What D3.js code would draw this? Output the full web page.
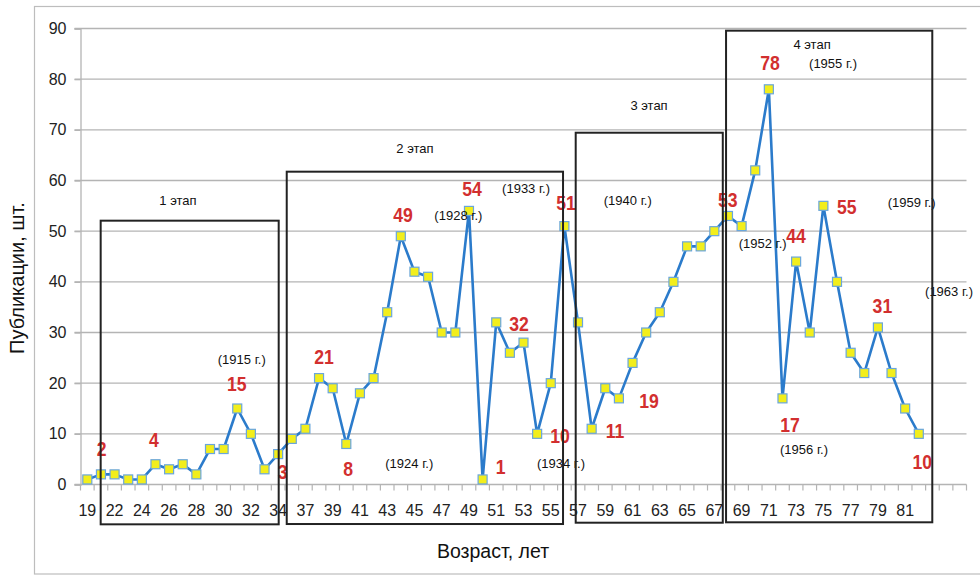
<!DOCTYPE html>
<html>
<head>
<meta charset="utf-8">
<script src="https://cdn.jsdelivr.net/npm/d3@7"></script>
<style>
  body { margin: 0; background: #fff; }
  svg { display: block; font-family: "Liberation Sans", Arial, sans-serif; }
</style>
</head>
<body>
<svg id="chart" width="980" height="575"></svg>
<script>
// ages on the category axis (only every second one is printed)
const ages = [
  "19", "21", "22", "23", "24", "25", "26", "27", "28", "29", "30", "31", "32", "33", "34",
  "36", "37", "38", "39", "40", "41", "42", "43", "44", "45", "46", "47", "48", "49", "50",
  "51", "52", "53", "54", "55", "56", "57", "58", "59", "60", "61", "62", "63", "64", "65",
  "66", "67", "68", "69", "70", "71", "72", "73", "74", "75", "76", "77", "78", "79", "80",
  "81", "82", "", "", ""
];
// publications per age
const publications = [
  1, 2, 2, 1, 1, 4, 3, 4, 2, 7, 7, 15, 10, 3, 6,
  9, 11, 21, 19, 8, 18, 21, 34, 49, 42, 41, 30, 30, 54, 1,
  32, 26, 28, 10, 20, 51, 32, 11, 19, 17, 24, 30, 34, 40, 47,
  47, 50, 53, 51, 62, 78, 17, 44, 30, 55, 40, 26, 22, 31, 22,
  15, 10
];
const yTicks = [0, 10, 20, 30, 40, 50, 60, 70, 80, 90];

// stage boxes, in category units (x) and publication units (y)
const stageNames = ["1 этап", "2 этап", "3 этап", "4 этап"];
const stageBoxes = [
  [1.48, 14.54, 52.07, -7.86],
  [15.13, 35.40, 61.74, -7.8],
  [36.33, 47.12, 69.43, -7.54],
  [47.36, 62.49, 89.57, -7.46]
];
const stageLabelPos = [[7.15, 56.15], [24.54, 66.4], [41.71, 74.9], [53.67, 86.94]];

// red peak values written on the chart
const peakTexts = ["2", "4", "15", "3", "21", "8", "49", "54", "1", "32", "10", "51", "11", "19", "53", "78", "44", "55", "17", "31", "10"];
const peakPos = [
  [1.56, 7.2], [5.39, 8.98], [11.46, 19.97], [14.83, 2.53], [17.87, 25.22], [19.63, 3.26],
  [23.66, 53.39], [28.72, 58.52], [30.83, 3.65], [32.17, 31.87], [35.18, 9.77], [35.62, 55.76],
  [39.22, 10.76], [41.71, 16.54], [47.48, 56.35], [50.59, 83.33], [52.5, 49.24], [56.21, 54.83],
  [52.05, 11.94], [58.83, 35.43], [61.76, 4.5]
];

// years written on the chart
const yearTexts = ["(1915 г.)", "(1924 г.)", "(1928 г.)", "(1933 г.)", "(1934 г.)", "(1940 г.)", "(1952 г.)", "(1955 г.)", "(1956 г.)", "(1959 г.)", "(1963 г.)"];
const yearPos = [
  [11.83, 24.71], [24.12, 4.18], [27.72, 53.19], [32.69, 58.46], [35.25, 4.24], [40.15, 56.01],
  [50.05, 47.47], [55.21, 83.13], [53.08, 6.95], [60.98, 55.62], [63.72, 38.05]
];

const svg = d3.select("#chart");
const plotLeft = 80.5, plotRight = 966.5, plotTop = 28.5, plotBottom = 484.5;

const x = d3.scaleBand().domain(d3.range(ages.length)).range([plotLeft, plotRight]).padding(0);
const xu = d3.scaleLinear().domain([0, ages.length]).range([plotLeft, plotRight]); // free positions
const y = d3.scaleLinear().domain([0, 90]).range([plotBottom, plotTop]);

// outer frame
svg.append("rect")
  .attr("x", 34.5).attr("y", 6.5).attr("width", 960).attr("height", 567.5)
  .attr("fill", "none").attr("stroke", "#bdbdbd").attr("stroke-width", 1.2);

// grid
svg.append("g").selectAll("line").data(yTicks.slice(1)).join("line")
  .attr("x1", plotLeft - 6).attr("x2", plotRight)
  .attr("y1", d => y(d)).attr("y2", d => y(d))
  .attr("stroke", "#b4b4b4").attr("stroke-width", 1.3);

// y axis
const yAxis = svg.append("g").attr("transform", `translate(${plotLeft},0)`)
  .call(d3.axisLeft(y).tickValues(yTicks).tickSize(6).tickPadding(8));
yAxis.select(".domain").attr("stroke", "#b4b4b4").attr("stroke-width", 1.3);
yAxis.selectAll(".tick line").attr("stroke", "#b4b4b4").attr("stroke-width", 1.3);
yAxis.selectAll("text").attr("font-size", 16).attr("fill", "#222");

// x axis: ticks on band edges, labels on every second category
const xAxis = svg.append("g").attr("transform", `translate(0,${plotBottom})`);
xAxis.append("line").attr("x1", plotLeft - 6).attr("x2", plotRight).attr("y1", 0).attr("y2", 0)
  .attr("stroke", "#b4b4b4").attr("stroke-width", 1.3);
xAxis.selectAll("line.tk").data(d3.range(ages.length + 1)).join("line").attr("class", "tk")
  .attr("x1", d => xu(d)).attr("x2", d => xu(d)).attr("y1", 0).attr("y2", 6)
  .attr("stroke", "#b4b4b4").attr("stroke-width", 1.2);
xAxis.selectAll("text").data(ages.map((a, i) => [a, i]).filter(d => d[1] % 2 === 0 && d[0] !== ""))
  .join("text")
  .attr("x", d => x(d[1]) + x.bandwidth() / 2).attr("y", 31)
  .attr("text-anchor", "middle").attr("font-size", 16).attr("fill", "#222")
  .text(d => d[0]);

// axis titles
svg.append("text").attr("x", 493).attr("y", 558).attr("text-anchor", "middle")
  .attr("font-size", 19.5).attr("fill", "#111").text("Возраст, лет");
svg.append("text").attr("transform", "translate(24,278) rotate(-90)").attr("text-anchor", "middle")
  .attr("font-size", 20).attr("fill", "#111").text("Публикации, шт.");

// series
const cx = i => x(i) + x.bandwidth() / 2;
svg.append("path").datum(publications)
  .attr("d", d3.line().x((d, i) => cx(i)).y(d => y(d)))
  .attr("fill", "none").attr("stroke", "#2b7bcb").attr("stroke-width", 2.6)
  .attr("stroke-linejoin", "round");
svg.append("g").selectAll("rect").data(publications).join("rect")
  .attr("x", (d, i) => cx(i) - 4.5).attr("y", d => y(d) - 4.5)
  .attr("width", 9).attr("height", 9)
  .attr("fill", "#f2ee1c").attr("stroke", "#6aa6dc").attr("stroke-width", 1.2);

// red values (squeezed a little, the source font is narrow) and years
svg.append("g").selectAll("text").data(peakTexts).join("text")
  .attr("transform", (d, i) => `translate(${xu(peakPos[i][0])},${y(peakPos[i][1])}) scale(0.84,1)`)
  .attr("text-anchor", "middle").attr("dominant-baseline", "central")
  .attr("font-weight", "bold").attr("font-size", 21).attr("fill", "#d22f2f")
  .text(d => d);
svg.append("g").selectAll("text").data(yearTexts).join("text")
  .attr("x", (d, i) => xu(yearPos[i][0])).attr("y", (d, i) => y(yearPos[i][1]))
  .attr("text-anchor", "middle").attr("dominant-baseline", "central")
  .attr("font-size", 13).attr("fill", "#111")
  .text(d => d);

// stage boxes
svg.append("g").selectAll("rect").data(stageBoxes).join("rect")
  .attr("x", d => xu(d[0])).attr("y", d => y(d[2]))
  .attr("width", d => xu(d[1]) - xu(d[0])).attr("height", d => y(d[3]) - y(d[2]))
  .attr("fill", "none").attr("stroke", "#222").attr("stroke-width", 2);
svg.append("g").selectAll("text").data(stageNames).join("text")
  .attr("x", (d, i) => xu(stageLabelPos[i][0])).attr("y", (d, i) => y(stageLabelPos[i][1]))
  .attr("text-anchor", "middle").attr("dominant-baseline", "central")
  .attr("font-size", 13).attr("fill", "#111")
  .text(d => d);
</script>
</body>
</html>
